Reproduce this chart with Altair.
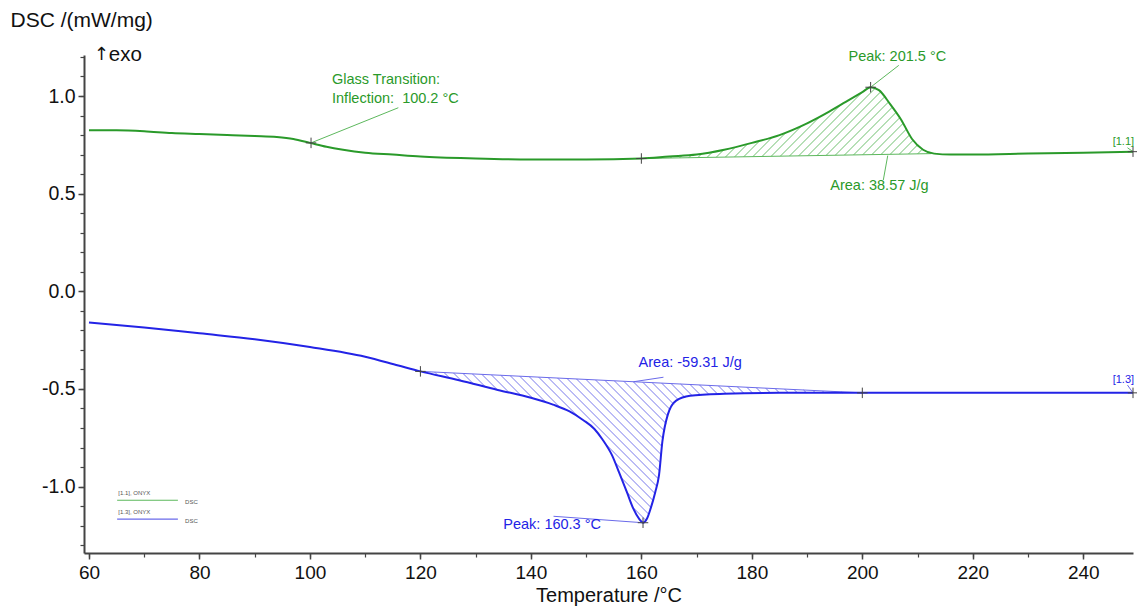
import altair as alt
import numpy as np
import pandas as pd

# ---------------- data ----------------
# Green curve: [1.1], ONYX, DSC
green_T = [60, 65, 70, 75, 80, 85, 90, 94, 97, 100, 103, 106, 110, 115, 120, 130, 140, 150, 160, 165,
           170, 175, 180, 185, 190, 194, 197, 200, 201.5, 203, 205, 207, 209, 211, 213, 216, 220, 230, 240, 249]
green_V = [0.825, 0.825, 0.82, 0.81, 0.805, 0.80, 0.795, 0.79, 0.78, 0.76, 0.74, 0.725, 0.71, 0.70, 0.69, 0.68, 0.675, 0.675, 0.68, 0.69,
           0.70, 0.725, 0.76, 0.80, 0.86, 0.92, 0.97, 1.02, 1.045, 1.03, 0.96, 0.88, 0.78, 0.725, 0.705, 0.70, 0.70, 0.705, 0.71, 0.715]

# Blue curve: [1.3], ONYX, DSC
blue_T = [60, 70, 80, 90, 100, 110, 116, 120, 127, 134, 140, 144, 147, 149.5, 151.5, 153, 154.7, 156, 157.4, 158.5,
          159.6, 160.3, 161, 161.7, 162.5, 163.2, 163.8, 164.8, 166.3, 168.8, 175, 185, 200, 220, 249]
blue_V = [-0.16, -0.185, -0.215, -0.245, -0.285, -0.335, -0.38, -0.41, -0.455, -0.505, -0.545, -0.58, -0.615, -0.66, -0.705, -0.76, -0.84, -0.93, -1.03, -1.11,
          -1.165, -1.185, -1.165, -1.11, -1.03, -0.94, -0.77, -0.63, -0.56, -0.535, -0.525, -0.52, -0.52, -0.52, -0.52]

# Integration baselines
green_base_T = [160, 212.5]
green_base_V = [0.68, 0.705]
blue_base_T = [120, 200]
blue_base_V = [-0.41, -0.52]

# Evaluation markers (+)
green_mark_T = [100.2, 160, 201.5, 249]
green_mark_V = [0.76, 0.68, 1.045, 0.715]
blue_mark_T = [120, 160.3, 200, 249]
blue_mark_V = [-0.41, -1.185, -0.52, -0.52]

# Annotation texts (data coordinates)
green_text = ["Glass Transition:", "Inflection:\u00a0 100.2 °C", "Peak: 201.5 °C", "Area: 38.57 J/g"]
green_text_T = [104.0, 104.0, 197.5, 194.2]
green_text_V = [1.08, 0.983, 1.198, 0.538]
blue_text = ["Area: -59.31 J/g", "Peak: 160.3 °C"]
blue_text_T = [159.5, 135.0]
blue_text_V = [-0.369, -1.198]

# Leader lines
green_lead = {"x": [100.2, 201.5, 204.6, 248.0], "y": [0.76, 1.045, 0.695, 0.735],
              "x2": [116.0, 206.6, 203.8, 249.0], "y2": [0.94, 1.157, 0.57, 0.715]}
blue_lead = {"x": [158.6, 144.1, 248.0], "y": [-0.463, -1.152, -0.48],
             "x2": [164.0, 160.3, 249.0], "y2": [-0.44, -1.185, -0.52]}

# Curve ids
id_labels = ["[1.1]", "[1.3]"]
id_T = [249.2, 249.2]
id_V = [0.763, -0.456]

# Mini legend
legend_names = ["[1.1], ONYX", "[1.3], ONYX"]
legend_sig = ["DSC", "DSC"]

XMIN, XMAX = 59.1, 249.0
YMIN, YMAX = -1.34, 1.21
W, H = 1049, 498

GREEN = "#2a9a2a"
GREEN_L = "#5db85d"
BLUE = "#2323e6"
BLUE_L = "#6a6aea"
FONT = "Liberation Sans"

XS = alt.Scale(domain=[XMIN, XMAX], nice=False, zero=False)
YS = alt.Scale(domain=[YMIN, YMAX], nice=False, zero=False)


def X(field="x", axis=None):
    return alt.X(f"{field}:Q", scale=XS, axis=axis)


def Y(field="y", axis=None):
    return alt.Y(f"{field}:Q", scale=YS, axis=axis)


def hatch(T, V, bT, bV, sign, spacing_px):
    sx = W / (XMAX - XMIN)
    sy = H / (YMAX - YMIN)
    m = sign * sx / sy
    xs = np.arange(bT[0], bT[1] + 1e-9, 0.02)
    cv = np.interp(xs, T, V)
    bv = np.interp(xs, bT, bV)
    lo = np.minimum(cv, bv)
    hi = np.maximum(cv, bv)
    dc = abs(m) * spacing_px / sx
    cmin = (lo - m * xs).min()
    cmax = (hi - m * xs).max()
    segs = []
    for c in np.arange(cmin + dc / 2, cmax, dc):
        ly = c + m * xs
        inside = (ly >= lo) & (ly <= hi)
        idx = np.where(inside)[0]
        if len(idx) < 2:
            continue
        breaks = np.where(np.diff(idx) > 1)[0]
        starts = np.concatenate([[idx[0]], idx[breaks + 1]])
        ends = np.concatenate([idx[breaks], [idx[-1]]])
        for a, b in zip(starts, ends):
            if b > a:
                segs.append({"x": xs[a], "y": ly[a], "x2": xs[b], "y2": ly[b]})
    return pd.DataFrame(segs)


green_df = pd.DataFrame({"x": green_T, "y": green_V})
blue_df = pd.DataFrame({"x": blue_T, "y": blue_V})

# ---------------- layers ----------------
green_hatch = alt.Chart(hatch(green_T, green_V, green_base_T, green_base_V, 1, 9)).mark_rule(
    color=GREEN_L, strokeWidth=0.9).encode(x=X(), y=Y(), x2="x2:Q", y2="y2:Q")
blue_hatch = alt.Chart(hatch(blue_T, blue_V, blue_base_T, blue_base_V, -1, 9)).mark_rule(
    color=BLUE_L, strokeWidth=0.9).encode(x=X(), y=Y(), x2="x2:Q", y2="y2:Q")

green_base = alt.Chart(pd.DataFrame({"x": green_base_T, "y": green_base_V})).mark_line(
    color=GREEN_L, strokeWidth=1).encode(x=X(), y=Y())
blue_base = alt.Chart(pd.DataFrame({"x": blue_base_T, "y": blue_base_V})).mark_line(
    color=BLUE_L, strokeWidth=1).encode(x=X(), y=Y())

x_major = alt.Axis(values=list(range(60, 241, 20)), format="d", orient="bottom", grid=False,
                   tickSize=6, tickColor="#444", tickWidth=1.5, domainColor="#444", domainWidth=2,
                   labelFontSize=19, labelFont=FONT, labelColor="#111", labelPadding=4, labelFlush=False,
                   title="Temperature /°C", titleFontSize=20, titleFont=FONT, titleFontWeight="normal",
                   titleColor="#111", titlePadding=3)
y_major = alt.Axis(values=[-1.0, -0.5, 0.0, 0.5, 1.0], orient="left", grid=False,
                   labelExpr="(datum.value < 0 ? '-' : '') + format(abs(datum.value), '.1f')",
                   tickSize=6, tickColor="#444", tickWidth=1.5, domainColor="#444", domainWidth=2,
                   labelFontSize=19.5, labelFont=FONT, labelColor="#111", labelPadding=3, labelFlush=False,
                   title="DSC /(mW/mg)", titleAngle=0, titleAlign="left", titleBaseline="middle",
                   titleX=-74, titleY=-35, titleFontSize=21, titleFont=FONT, titleFontWeight="normal",
                   titleColor="#111")

green_line = alt.Chart(green_df).mark_line(color=GREEN, strokeWidth=2, interpolate="monotone").encode(
    x=X(axis=x_major), y=Y(axis=y_major))
blue_line = alt.Chart(blue_df).mark_line(color=BLUE, strokeWidth=2, interpolate="monotone").encode(
    x=X(), y=Y())

x_minor = alt.Axis(values=list(range(60, 250, 10)), orient="bottom", grid=False, labels=False,
                   domain=False, tickSize=4, tickColor="#444", tickWidth=1.2, title=None)
y_minor = alt.Axis(values=[round(v, 1) for v in np.arange(-1.3, 1.21, 0.1)], orient="left", grid=False,
                   labels=False, domain=False, tickSize=4, tickColor="#444", tickWidth=1.2, title=None)
minor_axes = alt.Chart(green_df).mark_point(opacity=0).encode(x=X(axis=x_minor), y=Y(axis=y_minor))

g_lead = alt.Chart(pd.DataFrame(green_lead)).mark_rule(color=GREEN_L, strokeWidth=1).encode(
    x=X(), y=Y(), x2="x2:Q", y2="y2:Q")
b_lead = alt.Chart(pd.DataFrame(blue_lead)).mark_rule(color=BLUE_L, strokeWidth=1).encode(
    x=X(), y=Y(), x2="x2:Q", y2="y2:Q")

cross = "M-1,0L1,0M0,-1L0,1"
marks = alt.Chart(pd.DataFrame({"x": green_mark_T + blue_mark_T, "y": green_mark_V + blue_mark_V})).mark_point(
    shape=cross, size=110, color="#444", strokeWidth=1, filled=False, opacity=1).encode(x=X(), y=Y())

g_text = alt.Chart(pd.DataFrame({"x": green_text_T, "y": green_text_V, "t": green_text})).mark_text(
    align="left", baseline="middle", font=FONT, fontSize=14.5, color=GREEN).encode(x=X(), y=Y(), text="t:N")
b_text = alt.Chart(pd.DataFrame({"x": blue_text_T, "y": blue_text_V, "t": blue_text})).mark_text(
    align="left", baseline="middle", font=FONT, fontSize=14.5, color=BLUE).encode(x=X(), y=Y(), text="t:N")
g_id = alt.Chart(pd.DataFrame({"x": id_T[:1], "y": id_V[:1], "t": id_labels[:1]})).mark_text(
    align="right", baseline="middle", font=FONT, fontSize=11, color=GREEN).encode(x=X(), y=Y(), text="t:N")
b_id = alt.Chart(pd.DataFrame({"x": id_T[1:], "y": id_V[1:], "t": id_labels[1:]})).mark_text(
    align="right", baseline="middle", font=FONT, fontSize=11, color=BLUE).encode(x=X(), y=Y(), text="t:N")

# "↑ exo" marker: arrow in DejaVu Sans (has the glyph), word in Liberation Sans
exo_arrow = alt.Chart(pd.DataFrame({"x": [60.9], "y": [1.21], "t": ["↑"]})).mark_text(
    align="left", baseline="middle", font="DejaVu Sans", fontSize=18, color="#111").encode(x=X(), y=Y(), text="t:N")
exo_word = alt.Chart(pd.DataFrame({"x": [63.6], "y": [1.208], "t": ["exo"]})).mark_text(
    align="left", baseline="middle", font=FONT, fontSize=20.5, color="#111").encode(x=X(), y=Y(), text="t:N")

# mini legend (bottom left)
leg_lines = alt.Chart(pd.DataFrame({"x": [65.1, 65.1], "x2": [76.1, 76.1], "y": [-1.07, -1.167],
                                    "c": ["g", "b"]})).mark_rule(strokeWidth=1.2).encode(
    x=X(), x2="x2:Q", y=Y(),
    color=alt.Color("c:N", scale=alt.Scale(domain=["g", "b"], range=[GREEN_L, BLUE_L]), legend=None))
leg_text = alt.Chart(pd.DataFrame({
    "x": [65.3, 65.3, 77.4, 77.4], "y": [-1.034, -1.13, -1.08, -1.178],
    "t": [legend_names[0], legend_names[1], legend_sig[0], legend_sig[1]]})).mark_text(
    align="left", baseline="middle", font=FONT, fontSize=6, color="#555").encode(x=X(), y=Y(), text="t:N")

chart = alt.layer(
    green_hatch, blue_hatch, green_base, blue_base, minor_axes, green_line, blue_line,
    g_lead, b_lead, marks, g_text, b_text, g_id, b_id, exo_arrow, exo_word, leg_lines, leg_text
).resolve_axis(x="independent", y="independent").properties(
    width=W, height=H,
    autosize=alt.AutoSizeParams(type="none"),
    padding={"left": 84, "top": 55, "right": 4, "bottom": 53},
    background="white",
).configure_view(stroke=None)

chart.save("out.html", embed_options={"renderer": "svg", "actions": False})
